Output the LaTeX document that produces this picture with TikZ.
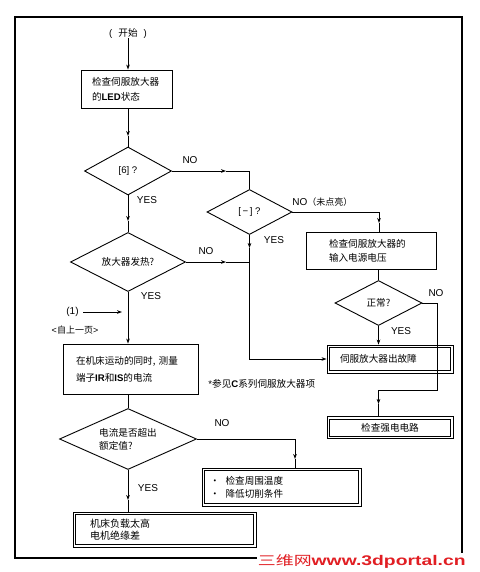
\documentclass[tikz,border=0pt]{standalone}
\usepackage{fontspec}
\usepackage{graphicx}
\setmainfont{Liberation Sans}
\newfontfamily\cjk{Noto Sans CJK SC}
\newfontfamily\lat{Liberation Sans}
\usetikzlibrary{shapes.geometric,arrows.meta}
\definecolor{wmred}{RGB}{225,30,35}
\begin{document}
\begin{tikzpicture}[x=1pt,y=-1pt,
  line width=0.9pt,
  arr/.style={-{Stealth[length=5pt,width=3.6pt]}},
  box/.style={draw, rectangle, inner ysep=2pt, align=left, font=\cjk\fontsize{9.6}{15}\selectfont},
  dbox/.style={box, line width=0.9pt},
  inner/.style={line width=0.6pt},
  dia/.style={draw, diamond, inner sep=0pt, align=left, font=\cjk\fontsize{9.6}{13}\selectfont},
  lab/.style={font=\lat\fontsize{10}{12}\selectfont, inner sep=0pt},
  txt/.style={font=\cjk\fontsize{9.6}{12}\selectfont, inner sep=0pt},
]
\useasboundingbox (0,0) rectangle (479,572);
\fill[white] (0,0) rectangle (479,572);
\draw[line width=1.1pt] (15,17) rectangle (462,558);

% nodes
\node[txt] (start) at (128,33) {{\lat (}\hspace{6pt}开始\hspace{6pt}{\lat )}};
\node[box, text width=69pt, inner xsep=11pt, minimum height=38pt] (b1) at (126.5,89) {检查伺服放大器\\的{\lat\bfseries LED}状态};
\node[dia, minimum width=87pt, minimum height=48pt, aspect=1.8] (d1) at (128,171) {{\lat [6] ?}};
\node[dia, minimum width=85pt, minimum height=45pt, aspect=1.9] (d2) at (249.5,212) {{\lat [\,−\,] ?}};
\node[dia, minimum width=115pt, minimum height=59pt, aspect=1.95] (d4) at (128,262) {放大器发热?};
\node[box, text width=84pt, inner xsep=23pt, minimum height=37pt, font=\cjk\fontsize{9.6}{14}\selectfont] (b3) at (371,250.5) {检查伺服放大器的\\输入电源电压};
\node[dia, minimum width=87pt, minimum height=45pt, aspect=1.9] (d3) at (378.5,303) {正常?};
\node[dbox, text width=100pt, inner xsep=13pt, minimum height=28pt] (b4) at (390,359) {伺服放大器出故障};
\node[dbox, minimum width=126pt, minimum height=22pt, align=center] (b5) at (390,427.5) {检查强电电路};
\node[box, text width=109pt, inner xsep=13pt, minimum height=50pt, font=\cjk\fontsize{9.6}{17}\selectfont] (b2) at (130.5,369) {在机床运动的同时, 测量\\端子{\lat\bfseries IR}和{\lat\bfseries IS}的电流};
\node[dia, minimum width=137pt, minimum height=61pt, aspect=2.25] (d5) at (128,439) {电流是否超出\\额定值?};
\node[dbox, text width=143pt, inner xsep=8pt, minimum height=38pt, font=\cjk\fontsize{9.6}{13}\selectfont] (b6) at (281.5,487) {·\hspace{6pt}检查周围温度\\·\hspace{6pt}降低切削条件};
\node[dbox, text width=149pt, inner xsep=17pt, minimum height=35pt, font=\cjk\fontsize{10}{11.5}\selectfont] (b7) at (164.5,529.5) {机床负载太高\\电机绝缘差};

% inner lines of the double-bordered boxes
\foreach \b in {b4,b5,b6,b7}
  \draw[inner] ([xshift=3pt,yshift=-3pt]\b.north west) rectangle ([xshift=-3pt,yshift=3pt]\b.south east);

% labels
\node[lab] (no1) at (190,160) {NO};
\node[lab] (yes1) at (147,200) {YES};
\node[lab, anchor=west] (no2) at (292,202) {NO{\cjk\fontsize{9}{10}\selectfont （未点亮）}};
\node[lab] (yes2) at (274,240) {YES};
\node[lab] (no3) at (206,251) {NO};
\node[lab] (yes3) at (151,296) {YES};
\node[lab] (no4) at (436,293) {NO};
\node[lab] (yes4) at (401,331) {YES};
\node[lab] (no5) at (222,423) {NO};
\node[lab] (yes5) at (148,488) {YES};
\node[lab] (one) at (72.5,312) {(1)};
\node[txt, font=\cjk\fontsize{9}{11}\selectfont] (prev) at (75,330) {{\lat <}自上一页{\lat >}};
\node[txt, anchor=west] (note) at (208,384) {{\lat *}参见{\lat\bfseries C}系列伺服放大器项};

% coordinates
\coordinate (a1) at (128,136);
\coordinate (a2) at (128,221);
\coordinate (a3) at (226,171);
\coordinate (c3) at (249.5,171);
\coordinate (c4) at (379,212);
\coordinate (a4) at (379,223);
\coordinate (a5) at (249.5,248);
\coordinate (c5) at (249.5,359);
\coordinate (a6) at (226,262);
\coordinate (j1) at (249.5,262);
\coordinate (p1) at (122,312);
\coordinate (c7) at (295,439);
\coordinate (a7) at (295,459);
\coordinate (a8) at (128,500);
\coordinate (c9) at (437,303);
\coordinate (c10) at (437,390);
\coordinate (c11) at (378.5,390);
\coordinate (a9) at (378.5,404);

% connectors
\draw[arr] (start.south) -- (start.south |- b1.north);
\draw[arr] (a1 |- b1.south) -- (a1);
\draw (a1) -- (d1.north);
\draw[arr] (d1.south) -- (a2);
\draw (a2) -- (d4.north);
\draw[arr] (d1.east) -- (a3);
\draw (a3) -- (c3) -- (d2.north);
\draw (d2.east) -- (c4);
\draw[arr] (c4) -- (a4);
\draw (a4) -- (a4 |- b3.north);
\draw[arr] (d2.south) -- (a5);
\draw[arr] (a5) -- (c5) -- (b4.west);
\draw[arr] (d4.east) -- (a6);
\draw (a6) -- (j1);
\draw[arr] (d4.south) -- (d4.south |- b2.north);
\draw[arr, shorten <=4pt] (one.east) -- (p1);
\draw (d5.north |- b2.south) -- (d5.north);
\draw (d5.east) -- (c7);
\draw[arr] (c7) -- (a7);
\draw (a7) -- (a7 |- b6.north);
\draw[arr] (d5.south) -- (a8);
\draw (a8) -- (a8 |- b7.north);
\draw (d3.north |- b3.south) -- (d3.north);
\draw[arr] (d3.south) -- (d3.south |- b4.north);
\draw (d3.east) -- (c9) -- (c10) -- (c11);
\draw[arr] (c11) -- (a9);
\draw (a9) -- (a9 |- b5.north);

% watermark
\node[fill=white, inner sep=1pt, text=wmred, anchor=east] (wm) at (467,561) {\scalebox{1.38}[1]{{\cjk\fontsize{13}{14}\selectfont 三维网}{\lat\bfseries\fontsize{14}{14}\selectfont www.3dportal.cn}}};
\end{tikzpicture}
\end{document}
